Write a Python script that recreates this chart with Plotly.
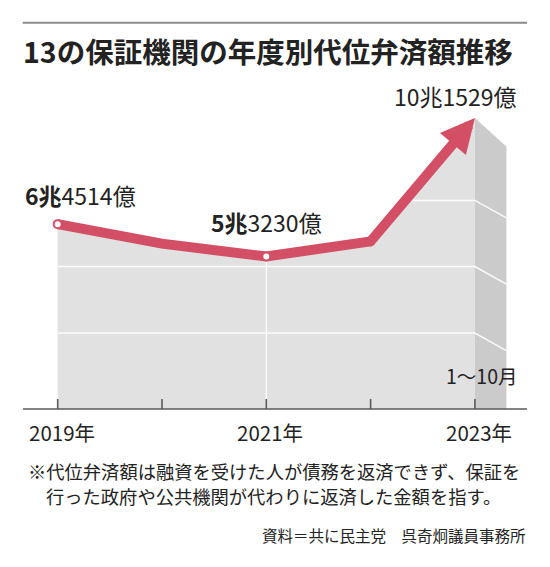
import plotly.graph_objects as go

# ---------------- data ----------------
years = [2019, 2020, 2021, 2022, 2023]
values = [64514, 57700, 53230, 58500, 101529]          # 億ウォン
label_years = [2019, 2021, 2023]
label_texts = ["<b>6兆</b>4514億", "<b>5兆</b>3230億", "10兆1529億"]
tick_years = [2019, 2021, 2023]
tick_labels = ["2019年", "2021年", "2023年"]
grid_values = [26500, 49700, 72800]
period_note = "1〜10月"
title_text = "13の保証機関の年度別代位弁済額推移"
note_lines = ["※代位弁済額は融資を受けた人が債務を返済できず、保証を",
              "行った政府や公共機関が代わりに返済した金額を指す。"]
source_text = "資料＝共に民主党　呉奇炯議員事務所"

# ---------------- style / geometry ----------------
W, H = 550, 567
FONT = "Noto Sans CJK JP"
RED = "#d24f66"
FILL = "#e1e1e1"
SIDE = "#cbcbcb"
TXT = "#222222"
AXIS = "#5a5a5a"

XPX = 104.3            # px per year
X0 = 2019 - 57.7 / XPX
K = 349.0              # value units per px
BASE_PX = 409
xr = [X0, X0 + W / XPX]
yr = [-(H - BASE_PX) * K, BASE_PX * K]

def px_x(px):
    return X0 + px / XPX

DEPTH = 31.5 / XPX      # side-face depth in years
TOP_DROP = 28.4 * K     # side-face top slope
GRID_DROP = 17.5 * K

last = years[-1]
vlast = values[-1]

fig = go.Figure()

# area fill
fig.add_trace(go.Scatter(x=years, y=values, mode="lines", fill="tozeroy",
                         fillcolor=FILL, line=dict(width=0), hoverinfo="skip"))
# side face
fig.add_trace(go.Scatter(x=[last, last + DEPTH, last + DEPTH, last, last],
                         y=[vlast, vlast - TOP_DROP, 0, 0, vlast],
                         mode="lines", fill="toself", fillcolor=SIDE,
                         line=dict(width=0), hoverinfo="skip"))
# white grid lines
for g in grid_values:
    fig.add_trace(go.Scatter(x=[years[0], last, last + DEPTH],
                             y=[g, g, g - GRID_DROP], mode="lines",
                             line=dict(color="rgba(255,255,255,0.9)", width=1.5),
                             hoverinfo="skip"))
# vertical white line at 2021
i21 = years.index(2021)
fig.add_trace(go.Scatter(x=[2021, 2021], y=[0, values[i21]], mode="lines",
                         line=dict(color="white", width=1.2), hoverinfo="skip"))

# red line (up to 2022)
fig.add_trace(go.Scatter(x=years[:-1], y=values[:-1], mode="lines",
                         line=dict(color=RED, width=10), hoverinfo="skip"))
fig.add_trace(go.Scatter(x=[years[-2]], y=[values[-2]], mode="markers",
                         marker=dict(size=10, color=RED), hoverinfo="skip"))
# white dots
mk_idx = [years.index(y) for y in (2019, 2021)]
fig.add_trace(go.Scatter(x=[years[i] for i in mk_idx], y=[values[i] for i in mk_idx],
                         mode="markers",
                         marker=dict(size=8, color="white", line=dict(color=RED, width=2)),
                         hoverinfo="skip"))

shapes = []
# baseline
shapes.append(dict(type="line", xref="x", yref="y", x0=px_x(23), x1=px_x(527),
                   y0=0, y1=0, line=dict(color=AXIS, width=1.6), layer="above"))
# ticks
for y in years:
    shapes.append(dict(type="line", xref="x", yref="y", x0=y, x1=y, y0=0, y1=10 * K,
                       line=dict(color=AXIS, width=1.6), layer="above"))
# title rule
shapes.append(dict(type="line", xref="paper", yref="paper", x0=22.7 / W, x1=527 / W,
                   y0=1 - 22.7 / H, y1=1 - 22.7 / H, line=dict(color="#8a8a8a", width=2)))

ann = []
# arrow for last segment
ann.append(dict(x=last, y=vlast, ax=years[-2], ay=values[-2], xref="x", yref="y",
                axref="x", ayref="y", text="", showarrow=True, arrowhead=2,
                arrowwidth=10, arrowsize=0.68, arrowcolor=RED, standoff=0))

# value labels
label_pos = {2019: dict(xshift=-35, yshift=29, xanchor="left"),
             2021: dict(xshift=0, yshift=34, xanchor="center"),
             2023: dict(xshift=-19, yshift=22, xanchor="center")}
for y, t in zip(label_years, label_texts):
    p = label_pos[y]
    ann.append(dict(x=y, y=values[years.index(y)], xref="x", yref="y", text=t,
                    showarrow=False, xanchor=p["xanchor"], yanchor="middle",
                    xshift=p["xshift"], yshift=p["yshift"],
                    font=dict(family=FONT, size=23, color=TXT)))
# period note
ann.append(dict(x=last, y=0, xref="x", yref="y", text=period_note, showarrow=False,
                xanchor="right", yanchor="middle", xshift=44, yshift=34,
                font=dict(family=FONT, size=19.5, color=TXT)))
# tick labels
for y, t in zip(tick_years, tick_labels):
    ann.append(dict(x=y, y=0, xref="x", yref="y", text=t, showarrow=False,
                    xanchor="center", yanchor="middle", xshift=4, yshift=-23,
                    font=dict(family=FONT, size=20.5, color=TXT)))
# title
ann.append(dict(x=21 / W, y=1 - 50 / H, xref="paper", yref="paper", text="<b>" + title_text + "</b>",
                showarrow=False, xanchor="left", yanchor="middle",
                font=dict(family=FONT, size=28.5, color=TXT)))
# notes
ann.append(dict(x=26 / W, y=1 - 471 / H, xref="paper", yref="paper", text=note_lines[0],
                showarrow=False, xanchor="left", yanchor="middle",
                font=dict(family=FONT, size=18.3, color=TXT)))
ann.append(dict(x=44 / W, y=1 - 496 / H, xref="paper", yref="paper", text=note_lines[1],
                showarrow=False, xanchor="left", yanchor="middle",
                font=dict(family=FONT, size=18.3, color=TXT)))
ann.append(dict(x=528 / W, y=1 - 535 / H, xref="paper", yref="paper", text=source_text,
                showarrow=False, xanchor="right", yanchor="middle",
                font=dict(family=FONT, size=15.5, color=TXT)))

fig.update_layout(
    width=W, height=H, autosize=False,
    margin=dict(l=0, r=0, t=0, b=0, pad=0),
    paper_bgcolor="white", plot_bgcolor="white",
    showlegend=False,
    xaxis=dict(range=xr, visible=False, fixedrange=True),
    yaxis=dict(range=yr, visible=False, fixedrange=True),
    shapes=shapes, annotations=ann,
)

fig.write_html("out.html",
               config={"displayModeBar": False, "staticPlot": True},
               post_script="document.body.style.margin='0';document.body.style.padding='0';")
